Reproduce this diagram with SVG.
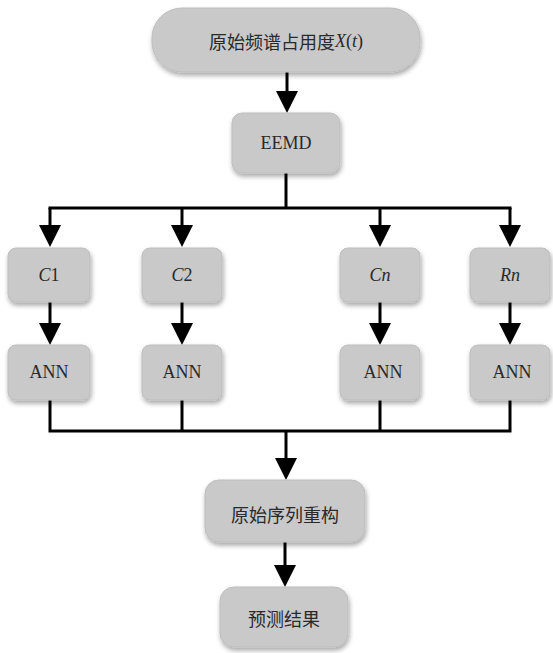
<svg xmlns="http://www.w3.org/2000/svg" width="553" height="653" viewBox="0 0 553 653">
<defs>
<filter id="sh" x="-20%" y="-20%" width="140%" height="150%">
<feGaussianBlur in="SourceAlpha" stdDeviation="2.5"/>
<feOffset dx="1" dy="3" result="b"/>
<feComponentTransfer><feFuncA type="linear" slope="0.35"/></feComponentTransfer>
<feMerge><feMergeNode/><feMergeNode in="SourceGraphic"/></feMerge>
</filter>
<marker id="ah" markerUnits="userSpaceOnUse" markerWidth="22" markerHeight="22" viewBox="0 0 22 22" refX="10" refY="11" orient="auto">
<path d="M0,0 L22,11 L0,22 Z" fill="#000"/>
</marker>
</defs>
<style>
.box{fill:#c9c9c9;stroke:#bdbdbd;stroke-width:1;filter:url(#sh)}
.t{font-family:"Liberation Serif","Noto Sans CJK SC",serif;font-size:18px;fill:#2a2a2a;text-anchor:middle;dominant-baseline:central}
.c{font-family:"Noto Sans CJK SC",sans-serif;font-size:18px;fill:#2a2a2a;text-anchor:middle;dominant-baseline:central}
.ln{stroke:#000;stroke-width:3;fill:none}
</style>
<rect width="553" height="653" fill="#fff"/>
<g id="connectors">
<line class="ln" x1="287" y1="72" x2="287" y2="101" marker-end="url(#ah)"/>
<polyline class="ln" points="286,173 286,208"/>
<polyline class="ln" points="48.5,208 511.5,208"/>
<line class="ln" x1="50" y1="208" x2="50" y2="235" marker-end="url(#ah)"/>
<line class="ln" x1="182" y1="208" x2="182" y2="235" marker-end="url(#ah)"/>
<line class="ln" x1="380" y1="208" x2="380" y2="235" marker-end="url(#ah)"/>
<line class="ln" x1="510" y1="208" x2="510" y2="235" marker-end="url(#ah)"/>
<line class="ln" x1="50" y1="302" x2="50" y2="333" marker-end="url(#ah)"/>
<line class="ln" x1="182" y1="302" x2="182" y2="333" marker-end="url(#ah)"/>
<line class="ln" x1="380" y1="302" x2="380" y2="333" marker-end="url(#ah)"/>
<line class="ln" x1="510" y1="302" x2="510" y2="333" marker-end="url(#ah)"/>
<polyline class="ln" points="50,400 50,431 510,431 510,400"/>
<line class="ln" x1="182" y1="400" x2="182" y2="431"/>
<line class="ln" x1="380" y1="400" x2="380" y2="431"/>
<line class="ln" x1="286" y1="431" x2="286" y2="468" marker-end="url(#ah)"/>
<line class="ln" x1="285" y1="542" x2="285" y2="575" marker-end="url(#ah)"/>
</g>
<g id="n-input">
<rect class="box" x="152" y="8" width="268" height="64" rx="30"/>
<text class="t" x="286" y="41"><tspan font-family="Noto Sans CJK SC, sans-serif" font-size="18">原始频谱占用度</tspan><tspan font-style="italic">X</tspan>(<tspan font-style="italic">t</tspan>)</text>
</g>
<g id="n-eemd">
<rect class="box" x="232" y="113" width="108" height="60" rx="10"/>
<text class="t" x="286" y="143">EEMD</text>
</g>
<g id="n-c1">
<rect class="box" x="8" y="248" width="82" height="54" rx="8"/>
<text class="t" x="49" y="275"><tspan font-style="italic">C</tspan>1</text>
</g>
<g id="n-c2">
<rect class="box" x="142" y="248" width="80" height="54" rx="8"/>
<text class="t" x="182" y="275"><tspan font-style="italic">C</tspan>2</text>
</g>
<g id="n-cn">
<rect class="box" x="340" y="248" width="80" height="54" rx="8"/>
<text class="t" x="380" y="275" font-style="italic">Cn</text>
</g>
<g id="n-rn">
<rect class="box" x="470" y="248" width="80" height="54" rx="8"/>
<text class="t" x="510" y="275" font-style="italic">Rn</text>
</g>
<g id="n-ann1">
<rect class="box" x="8" y="345" width="82" height="55" rx="8"/>
<text class="t" x="49" y="372">ANN</text>
</g>
<g id="n-ann2">
<rect class="box" x="142" y="345" width="80" height="55" rx="8"/>
<text class="t" x="182" y="372">ANN</text>
</g>
<g id="n-ann3">
<rect class="box" x="340" y="345" width="80" height="55" rx="8"/>
<text class="t" x="383" y="372">ANN</text>
</g>
<g id="n-ann4">
<rect class="box" x="470" y="345" width="80" height="55" rx="8"/>
<text class="t" x="512" y="372">ANN</text>
</g>
<g id="n-recon">
<rect class="box" x="205" y="480" width="160" height="62" rx="14"/>
<text class="c" x="285" y="514">原始序列重构</text>
</g>
<g id="n-result">
<rect class="box" x="220" y="587" width="128" height="60" rx="14"/>
<text class="c" x="284" y="618">预测结果</text>
</g>
</svg>
